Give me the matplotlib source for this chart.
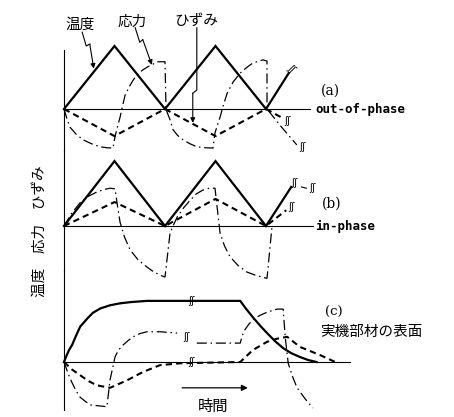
import matplotlib.pyplot as plt

# time in half-cycle units, values in units of the temperature amplitude
# (a) out-of-phase
temp_a_t = [0, 1, 2, 3, 4, 4.45]
temp_a_v = [0, 1.0, 0, 1.0, 0, 0.57]
strain_a_t = [0, 1, 2, 3, 4, 4.32]
strain_a_v = [0, -0.43, 0, -0.43, 0, -0.14]
stress_a_t = [0, 0.06, 0.12, 0.24, 0.38, 0.54, 0.71, 0.85, 0.97, 1.01, 1.06, 1.11, 1.16, 1.21,
              1.29, 1.37, 1.46, 1.56, 1.66, 1.76, 1.84, 2.0, 2.02,
              2.06, 2.1, 2.16, 2.25, 2.36, 2.49, 2.63, 2.8, 2.95, 2.99, 3.04, 3.09, 3.16, 3.23,
              3.35, 3.49, 3.62, 3.74, 3.94, 4.02, 4.02, 4.3, 4.61]
stress_a_v = [0, -0.16, -0.29, -0.40, -0.49, -0.55, -0.60, -0.615, -0.62, -0.44, -0.28, -0.13, 0.05, 0.22,
              0.35, 0.46, 0.55, 0.62, 0.67, 0.71, 0.75, 0.75, 0,
              -0.09, -0.17, -0.33, -0.42, -0.49, -0.55, -0.60, -0.615, -0.62, -0.38, -0.25, -0.13, 0.07, 0.25,
              0.43, 0.57, 0.66, 0.73, 0.78, 0.76, 0, -0.28, -0.57]

# (b) in-phase
temp_b_t = [0, 1, 2, 3, 4, 4.5]
temp_b_v = [0, 1.03, 0, 1.03, 0, 0.62]
strain_b_t = [0, 1, 2, 3, 4, 4.4]
strain_b_v = [0, 0.38, 0, 0.43, 0, 0.25]
stress_b_t = [0, 0.15, 0.32, 0.48, 0.65, 0.8, 0.91, 1.01, 1.05, 1.11, 1.2, 1.31, 1.47, 1.64, 1.78, 1.9, 2.0,
              2.1, 2.17, 2.24, 2.37, 2.5, 2.62, 2.75, 2.88, 2.99, 3.09, 3.18, 3.29, 3.45, 3.62, 3.82,
              4.02, 4.12]
stress_b_v = [0, 0.2, 0.37, 0.47, 0.54, 0.58, 0.60, 0.59, 0.37, 0.06, -0.18, -0.38, -0.54, -0.65, -0.73, -0.78, -0.81,
              -0.11, 0.02, 0.14, 0.29, 0.41, 0.51, 0.57, 0.60, 0.60, -0.11, -0.32, -0.49, -0.63, -0.73, -0.79,
              -0.83, 0.0]

# (c) surface of a real component
temp_c_t = [0, 0.05, 0.1, 0.16, 0.24, 0.32, 0.45, 0.57, 0.72, 0.91, 1.1, 1.31, 1.64, 3.49,
            3.6, 3.74, 3.88, 4.02, 4.18, 4.34, 4.5, 4.67, 4.84, 5.0]
temp_c_v = [0, 0.10, 0.19, 0.27, 0.42, 0.56, 0.68, 0.78, 0.85, 0.90, 0.93, 0.95, 0.97, 0.97,
            0.85, 0.71, 0.58, 0.46, 0.33, 0.22, 0.14, 0.08, 0.03, 0.0]
strain_c_t = [0, 0.16, 0.32, 0.48, 0.65, 0.91, 1.25, 1.56, 1.9, 2.3, 3.49, 3.74, 4.02, 4.22, 4.42,
              4.67, 5.07, 5.37]
strain_c_v = [0, -0.12, -0.21, -0.30, -0.37, -0.41, -0.29, -0.16, -0.05, -0.02, 0, 0.19, 0.32, 0.37, 0.40,
              0.24, 0.11, 0]
stress_c1_t = [0, 0.08, 0.16, 0.24, 0.32, 0.51, 0.85, 0.91, 1.01, 1.08, 1.17, 1.27, 1.37, 1.5, 1.64, 1.9, 2.24]
stress_c1_v = [0, -0.18, -0.33, -0.46, -0.56, -0.68, -0.71, -0.29, 0.08, 0.19, 0.27, 0.34, 0.40, 0.45, 0.48, 0.48, 0.46]
stress_c2_t = [2.63, 3.49, 3.53, 3.58, 3.66, 3.74, 3.88, 4.02, 4.22, 4.34, 4.38, 4.44, 4.52, 4.61, 4.77, 4.93]
stress_c2_v = [0.30, 0.30, 0.42, 0.51, 0.60, 0.67, 0.74, 0.79, 0.84, 0.84, 0.40, -0.02, -0.22, -0.40, -0.58, -0.73]

W, H = 454, 417
X0, PX_T, PX_V = 64, 50.5, 63.0

plt.rcParams['font.family'] = ['Noto Sans CJK JP', 'DejaVu Sans']
fig = plt.figure(figsize=(W / 100, H / 100), dpi=100)


def panel(top, bottom, base):
    ax = fig.add_axes([0, 1 - bottom / H, 1, (bottom - top) / H])
    ax.set_xlim(-X0 / PX_T, (W - X0) / PX_T)
    ax.set_ylim((base - bottom) / PX_V, (base - top) / PX_V)
    ax.axis('off')
    ax.patch.set_alpha(0)
    return ax


ax_a = panel(0, 150, 109)
ax_b = panel(150, 270, 226)
ax_c = panel(270, 417, 362)

solid = dict(color='black', lw=1.6, clip_on=False, solid_joinstyle='miter')
dashed = dict(color='black', lw=1.5, ls=(0, (3, 2)), clip_on=False)
dashdot = dict(color='black', lw=0.9, ls=(0, (8, 3, 1.2, 3)), clip_on=False)
thin = dict(color='black', lw=0.8, clip_on=False)
brk = dict(fontsize=7, family='DejaVu Sans', ha='center', va='center')

# vertical axis and baselines
ax_a.plot([0, 0], [0.94, -0.66], **thin)
ax_b.plot([0, 0], [1.21, -0.71], **thin)
ax_c.plot([0, 0], [1.46, -0.76], **thin)
ax_a.plot([0, 4.87], [0, 0], **thin)
ax_b.plot([0, 4.93], [0, 0], **thin)
ax_c.plot([0, 5.66], [0, 0], **thin)

# (a)
ax_a.plot(temp_a_t, temp_a_v, **solid)
ax_a.plot(strain_a_t, strain_a_v, **dashed)
ax_a.plot(stress_a_t, stress_a_v, **dashdot)
ax_a.text(4.5, 0.64, 'ʃʃ', rotation=-45, **brk)
ax_a.text(4.42, -0.19, 'ʃʃ', **brk)
ax_a.text(4.73, -0.6, 'ʃʃ', **brk)
ax_a.text(5.27, 0.29, '(a)', fontsize=10, family='DejaVu Serif', ha='center', va='center')
ax_a.text(4.97, 0, 'out-of-phase', fontsize=9, family='DejaVu Sans Mono',
          fontweight='bold', ha='left', va='center')

# labels with zigzag leaders
ax_a.text(0.32, 1.34, '温度', fontsize=10.5, ha='center', va='center')
ax_a.text(1.35, 1.38, '応力', fontsize=10.5, ha='center', va='center')
ax_a.text(2.62, 1.40, 'ひずみ', fontsize=10.5, ha='center', va='center')
arrow = dict(arrowstyle='-|>', color='black', lw=0.8, mutation_scale=7, shrinkA=0, shrinkB=0)
ax_a.plot([0.36, 0.44, 0.51], [1.22, 1.0, 1.03], **thin)
ax_a.annotate('', xy=(0.59, 0.64), xytext=(0.51, 1.03), arrowprops=arrow, annotation_clip=False)
ax_a.plot([1.41, 1.5, 1.56], [1.29, 1.06, 1.10], **thin)
ax_a.annotate('', xy=(1.74, 0.70), xytext=(1.56, 1.10), arrowprops=arrow, annotation_clip=False)
ax_a.plot([2.63, 2.63, 2.55], [1.29, 0.30, 0.25], **thin)
ax_a.annotate('', xy=(2.55, -0.22), xytext=(2.55, 0.25), arrowprops=arrow, annotation_clip=False)

# (b)
ax_b.plot(temp_b_t, temp_b_v, **solid)
ax_b.plot(strain_b_t, strain_b_v, **dashed)
ax_b.plot(stress_b_t, stress_b_v, **dashdot)
ax_b.text(4.56, 0.68, 'ʃʃ', **brk)
ax_b.plot([4.7, 4.8], [0.62, 0.6], **thin)
ax_b.text(4.92, 0.6, 'ʃʃ', **brk)
ax_b.text(4.5, 0.3, 'ʃʃ', **brk)
ax_b.text(5.31, 0.35, '(b)', fontsize=10, family='DejaVu Serif', ha='center', va='center')
ax_b.text(4.97, 0, 'in-phase', fontsize=9, family='DejaVu Sans Mono',
          fontweight='bold', ha='left', va='center')

# (c)
ax_c.plot(temp_c_t, temp_c_v, **solid)
ax_c.plot(strain_c_t, strain_c_v, **dashed)
ax_c.plot(stress_c1_t, stress_c1_v, **dashdot)
ax_c.plot(stress_c2_t, stress_c2_v, **dashdot)
ax_c.text(2.53, 0.97, 'ʃʃ', **brk)
ax_c.text(2.43, 0.40, 'ʃʃ', **brk)
ax_c.text(2.53, 0.0, 'ʃʃ', **brk)
ax_c.text(5.35, 0.78, '(c)', fontsize=9.5, family='DejaVu Serif', ha='center', va='center')
ax_c.text(5.07, 0.48, '実機部材の表面', fontsize=10.5, ha='left', va='center')
ax_c.annotate('', xy=(3.64, -0.41), xytext=(2.34, -0.41),
              arrowprops=dict(arrowstyle='-|>', color='black', lw=0.9, mutation_scale=9,
                              shrinkA=0, shrinkB=0), annotation_clip=False)
ax_c.text(2.95, -0.71, '時間', fontsize=11, ha='center', va='center')

# vertical axis label
fig.text(40 / W, 1 - 231 / H, '温度　応力　ひずみ', rotation=90, fontsize=10.5,
         ha='center', va='center')

fig.savefig('out.png', dpi=100)
